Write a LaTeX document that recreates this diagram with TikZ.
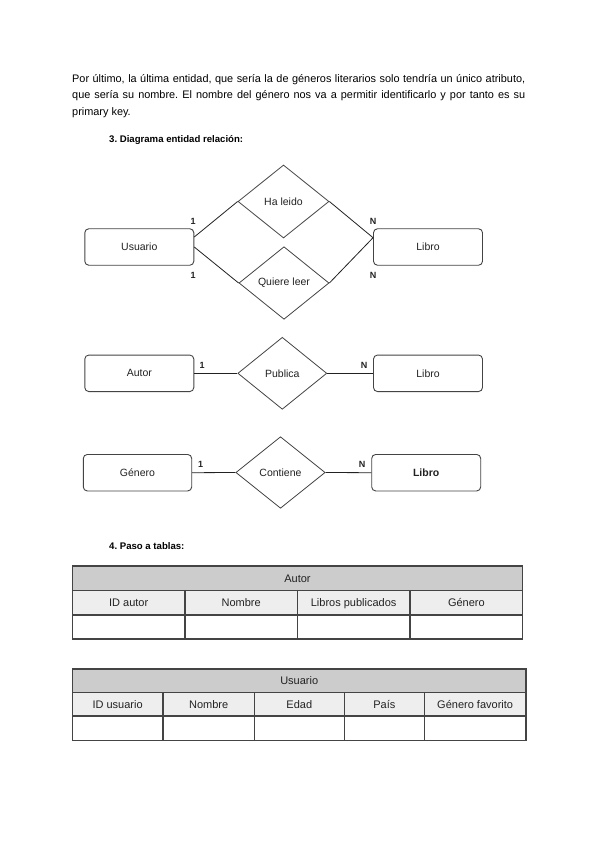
\documentclass[tikz,border=0pt]{standalone}
\usepackage{fontspec}
\setmainfont{Liberation Sans}
\usetikzlibrary{shapes.geometric}
\frenchspacing
\definecolor{inkgray}{HTML}{222222}
\definecolor{linegray}{HTML}{444444}
\definecolor{headgray}{HTML}{CCCCCC}
\definecolor{rowgray}{HTML}{EEEEEE}
\tikzset{entity/.style={draw=linegray,rounded corners=4pt,line width=0.9pt,minimum width=109pt,minimum height=36.5pt,inner sep=0pt,font=\fontsize{10.5}{12}\selectfont,text=inkgray},
  relation/.style={draw=linegray,diamond,line width=0.8pt,minimum width=90pt,minimum height=72pt,inner sep=0pt,font=\fontsize{10.5}{12}\selectfont,text=inkgray},
  link/.style={draw=inkgray,line width=0.8pt},
  card/.style={font=\fontsize{9}{10}\selectfont\bfseries,text=inkgray,inner sep=0pt},
  heading/.style={anchor=base west,inner sep=0pt,font=\fontsize{9.6}{12}\selectfont\bfseries},
  cellhead/.style={draw=linegray,line width=1.2pt,fill=headgray},
  cellrow/.style={draw=linegray,line width=1.2pt,fill=rowgray},
  cellempty/.style={draw=linegray,line width=1.2pt,fill=white},
  celltxt/.style={anchor=base,inner sep=0pt,font=\fontsize{11}{13}\selectfont,text=inkgray}}

\begin{document}
\begin{tikzpicture}[x=1pt,y=-1pt]
\useasboundingbox[fill=white] (0,0) rectangle (599,848);
% texto inicial
\node[anchor=base west,inner sep=0pt,text width=453pt,align=justify,font=\fontsize{10.9}{16.4}\selectfont] (intro) at (72,82.5) {Por último, la última entidad, que sería la de géneros literarios solo tendría un único atributo,\linebreak que sería su nombre. El nombre del género nos va a permitir identificarlo y por tanto es su\linebreak primary key.};
\node[heading] (h3) at (109,142.5) {3. Diagrama entidad relación:};
% diagrama entidad relacion
\node[entity] (usr) at (139.3,247) {Usuario};
\node[entity] (libA) at (428,247) {Libro};
\node[relation,minimum width=91pt,minimum height=73pt] (hl) at (283.5,201.5) {Ha leido};
\node[relation,minimum height=72.6pt] (ql) at (284,283) {Quiere leer};
\draw[link] ([yshift=10pt]usr.east) -- (hl.west);
\draw[link] (hl.east) -- ([yshift=9.3pt]libA.west);
\draw[link] (usr.east) -- (ql.west);
\draw[link] (ql.east) -- ([yshift=9.3pt]libA.west);
\node[card] (c1) at (193,221) {1};
\node[card] (c2) at (193,275) {1};
\node[card] (c3) at (373,221) {N};
\node[card] (c4) at (373,275) {N};
\node[entity] (aut) at (139.3,373.3) {Autor};
\node[entity] (libB) at (428,373.3) {Libro};
\node[relation,minimum width=89pt] (pub) at (282.3,373.3) {Publica};
\draw[link] (aut.east) -- (pub.west);
\draw[link] (pub.east) -- (libB.west);
\node[card] (c5) at (202,365) {1};
\node[card] (c6) at (364,365) {N};
\node[entity,minimum width=108.4pt] (gen) at (137.5,472.7) {Género};
\node[entity,font=\fontsize{10.5}{12}\selectfont\bfseries] (libC) at (426.2,472.7) {Libro};
\node[relation,minimum width=89.3pt,minimum height=71.6pt] (cont) at (280.5,472.5) {Contiene};
\draw[link] (gen.east) -- (cont.west);
\draw[link] (cont.east) -- (libC.west);
\node[card] (c7) at (200.7,464) {1};
\node[card] (c8) at (362,464) {N};
% paso a tablas
\node[heading] (h4) at (109,549) {4. Paso a tablas:};
\draw[cellhead] (72.3,566) rectangle (522.7,590.7);
\node[celltxt] (tA) at (297.5,582.3) {Autor};
\foreach \a/\b/\t [count=\i] in {72.3/185/ID autor,185/297.3/Nombre,297.3/410/Libros publicados,410/522.7/Género}{
  \draw[cellrow] (\a,590.7) rectangle (\b,615);
  \draw[cellempty] (\a,615) rectangle (\b,639);
  \node[celltxt] (a\i) at ({(\a+\b)/2},606.8) {\t};
}
\draw[cellhead] (72.3,669) rectangle (526,692.7);
\node[celltxt] (tU) at (299.2,684.8) {Usuario};
\foreach \a/\b/\t [count=\i] in {72.3/163/ID usuario,163/254.3/Nombre,254.3/344.3/Edad,344.3/424.3/País,424.3/526/Género favorito}{
  \draw[cellrow] (\a,692.7) rectangle (\b,716);
  \draw[cellempty] (\a,716) rectangle (\b,740.7);
  \node[celltxt] (u\i) at ({(\a+\b)/2},708.3) {\t};
}
\end{tikzpicture}
\end{document}
